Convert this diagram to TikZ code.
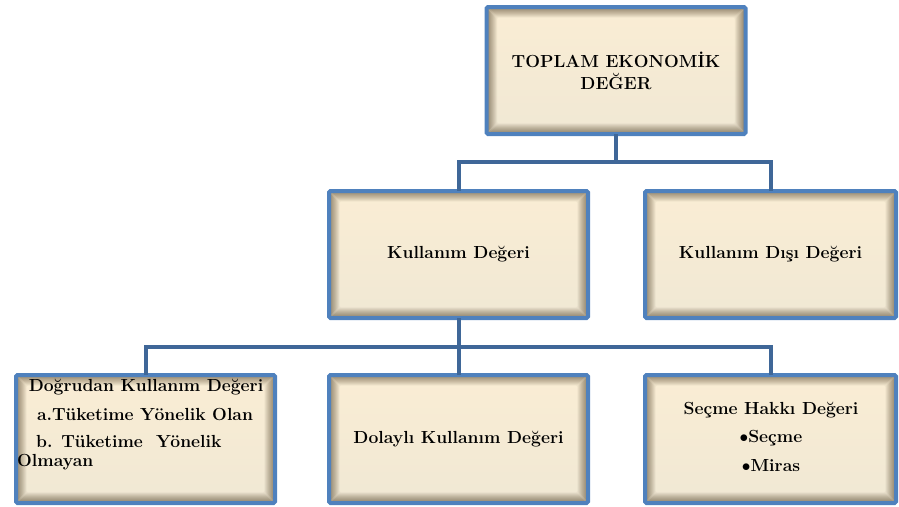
\documentclass[tikz,border=0pt]{standalone}
\usepackage{tikz}
\usetikzlibrary{positioning}
\definecolor{boxblue}{RGB}{79,129,189}
\definecolor{linkblue}{RGB}{63,103,152}
\definecolor{creamtop}{RGB}{250,237,212}
\definecolor{creambot}{RGB}{240,232,212}
\definecolor{shadowbrown}{RGB}{85,70,45}
\tikzset{
  valbox/.style={draw=boxblue, line width=4pt, rounded corners=1.5pt,
    minimum width=259pt, minimum height=127pt, inner sep=0pt,
    align=center, font=\fontsize{17.5}{22}\selectfont\bfseries,
    path picture={
      \fill[top color=creamtop, bottom color=creambot]
        (path picture bounding box.south west) rectangle (path picture bounding box.north east);
      \foreach \i in {1,...,10}{
        \draw[draw=shadowbrown, line width=1.1pt, opacity={0.6*(1-\i/11)}]
          ([shift={(\i pt,-\i pt)}]path picture bounding box.north west) rectangle
          ([shift={(-\i pt,\i pt)}]path picture bounding box.south east);
      }
    }},
  link/.style={draw=linkblue, line width=4pt, line cap=rect},
  txt/.style={inner sep=0pt, font=\fontsize{17.5}{22}\selectfont\bfseries}
}
\begin{document}
\begin{tikzpicture}[x=1pt,y=-1pt]
  \useasboundingbox (0,0) rectangle (899,506);
  % boxes
  \node[valbox] (total) at (616,70.5) {TOPLAM EKONOMİK\\DEĞER};
  \node[valbox] (use) at (458.5,254.5) {Kullanım Değeri};
  \node[valbox, minimum width=251pt] (nonuse) at (770.5,254.5) {Kullanım Dışı Değeri};
  \node[valbox, minimum height=128pt] (direct) at (145.5,439) {};
  \node[valbox, minimum height=128pt] (indirect) at (458.5,439) {Dolaylı Kullanım Değeri};
  \node[valbox, minimum width=251pt, minimum height=128pt] (option) at (770.5,439) {};
  % texts of the lower boxes
  \node[txt] (d1) at (146,387) {Doğrudan Kullanım Değeri};
  \node[txt] (d2) at (145,414) {a.Tüketime Yönelik Olan};
  \node[txt, anchor=west] (d3) at (36,441) {b. Tüketime\ \ Yönelik};
  \node[txt, anchor=west] (d4) at (17,462) {Olmayan};
  \node[txt] (o1) at (771,410) {Seçme Hakkı Değeri};
  \node[txt] (o2) at (771,438) {$\bullet$Seçme};
  \node[txt] (o3) at (771,466) {$\bullet$Miras};
  % connectors
  \coordinate (hubA) at (616,162);
  \coordinate (hubB) at (458.5,347);
  \draw[link] (total.south) -- (hubA);
  \draw[link] (hubA) -| (use.north);
  \draw[link] (hubA) -| (nonuse.north);
  \draw[link] (use.south) -- (indirect.north);
  \draw[link] (hubB) -| (direct.north);
  \draw[link] (hubB) -| (option.north);
\end{tikzpicture}
\end{document}
